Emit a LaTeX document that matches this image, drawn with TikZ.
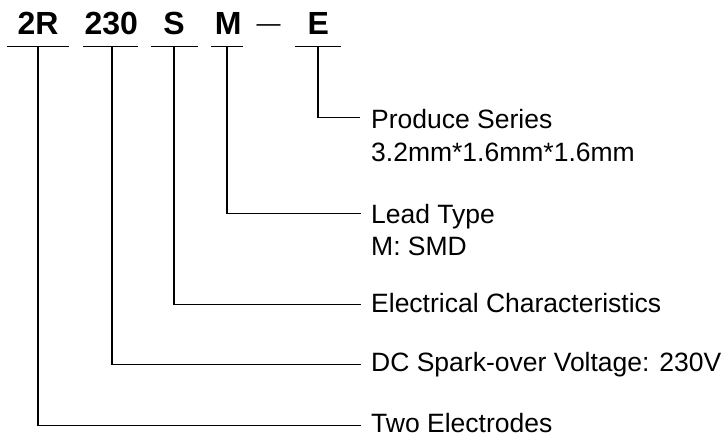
\documentclass[tikz,border=0pt]{standalone}
\usepackage{fontspec}
\setmainfont{Liberation Sans}
\begin{document}
\begin{tikzpicture}[x=1pt,y=1pt,
  code/.style={font=\fontsize{32}{38}\selectfont\bfseries, anchor=base, inner sep=0},
  lbl/.style={font=\fontsize{26.5}{32}\selectfont, anchor=base west, inner sep=0},
  leader/.style={line width=1.3pt, black}]
\useasboundingbox (0,0) rectangle (722,-437);
% code letters
\node[code] (c2R)  at (38,-34.5)    {2R};
\node[code] (c230) at (111.3,-34.5) {230};
\node[code] (cS)   at (174,-34.5)   {S};
\node[code] (cM)   at (228.3,-34.5) {M};
\node[font=\fontsize{24}{28}\selectfont, inner sep=0, anchor=base] (dash) at (268.5,-31) {—};
\node[code] (cE)   at (318.3,-34.5) {E};
% underlines
\coordinate (a2R) at (7,-46.7);   \coordinate (b2R) at (69,-46.7);
\coordinate (a230) at (83,-46.7); \coordinate (b230) at (138,-46.7);
\coordinate (aS) at (151,-46.7);  \coordinate (bS) at (198,-46.7);
\coordinate (aM) at (211,-46.7);  \coordinate (bM) at (243,-46.7);
\coordinate (aE) at (295,-46.7);  \coordinate (bE) at (341,-46.7);
\draw[leader] (a2R) -- (b2R);
\draw[leader] (a230) -- (b230);
\draw[leader] (aS) -- (bS);
\draw[leader] (aM) -- (bM);
\draw[leader] (aE) -- (bE);
% labels
\node[lbl] (lE1)  at (371,-128.3) {Produce Series};
\node[lbl] (lE2)  at (371,-161.7) {3.2mm*1.6mm*1.6mm};
\node[lbl] (lM1)  at (371,-223.3) {Lead Type};
\node[lbl] (lM2)  at (371,-255)   {M: SMD};
\node[lbl] (lS)   at (371,-312.3) {Electrical Characteristics};
\node[lbl] (l230) at (371,-371.7) {DC Spark-over Voltage: 230V};
\node[lbl] (l2R)  at (371,-432.3) {Two Electrodes};
% leader starts and ends
\coordinate (t2R) at (38,-46.7);   \coordinate (e2R) at (361,-425.7);
\coordinate (t230) at (112,-46.7); \coordinate (e230) at (361,-364.3);
\coordinate (tS) at (174,-46.7);   \coordinate (eS) at (361,-304.3);
\coordinate (tM) at (227,-46.7);   \coordinate (eM) at (361,-213.3);
\coordinate (tE) at (318,-46.7);   \coordinate (eE) at (360,-117.3);
\draw[leader] (t2R) |- (e2R);
\draw[leader] (t230) |- (e230);
\draw[leader] (tS) |- (eS);
\draw[leader] (tM) |- (eM);
\draw[leader] (tE) |- (eE);
\end{tikzpicture}
\end{document}
